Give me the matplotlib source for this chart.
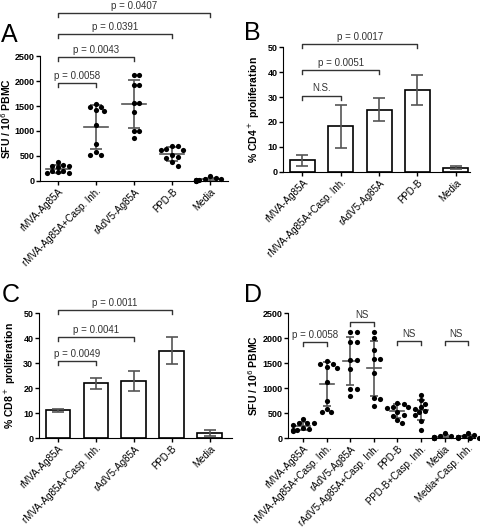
import numpy as np
import matplotlib
matplotlib.use('Agg')
import matplotlib.pyplot as plt

plt.rcParams['font.family'] = ['Liberation Sans', 'DejaVu Sans']

# ---- data ----
groups_a = ['rMVA-Ag85A', 'rMVA-Ag85A+Casp. Inh.', 'rAdV5-Ag85A', 'PPD-B', 'Media']
groups_d = ['rMVA-Ag85A', 'rMVA-Ag85A+Casp. Inh.', 'rAdV5-Ag85A', 'rAdV5-Ag85A+Casp. Inh.',
            'PPD-B', 'PPD-B+Casp. Inh.', 'Media', 'Media+Casp. Inh.']

sfu_rmva = [380, 300, 300, 310, 270, 200, 190, 170, 160, 150]
sfu_rmva_casp = [1540, 1490, 1490, 1420, 1400, 1120, 740, 580, 520, 520]
sfu_radv5 = [2120, 2120, 1920, 1920, 1570, 1570, 1390, 990, 990, 850]
sfu_radv5_casp = [2120, 2000, 1770, 1590, 1590, 1300, 800, 780, 640]
sfu_ppdb = [690, 700, 630, 620, 610, 520, 470, 450, 370, 300]
sfu_ppdb_casp = [860, 760, 680, 620, 590, 540, 520, 460, 340, 170]
sfu_media = [100, 50, 40, 30, 20, 20, 10, 10, 5, 5]
sfu_media_casp = [100, 60, 40, 30, 25, 20, 15, 10, 5, 5]

cd4_mean = [4.7, 18.2, 25.0, 32.9, 1.7]
cd4_sd = [2.2, 8.8, 4.6, 6.0, 0.7]
cd8_mean = [11.1, 21.9, 22.9, 35.0, 2.0]
cd8_sd = [0.6, 2.2, 4.1, 5.3, 1.2]

# brackets: (i, j, height, label)
brackets_a = [(0, 1, 1960, 'p = 0.0058'), (0, 2, 2480, 'p = 0.0043'),
              (0, 3, 2940, 'p = 0.0391'), (0, 4, 3360, 'p = 0.0407')]
brackets_b = [(0, 1, 30.5, 'N.S.'), (0, 2, 40.8, 'p = 0.0051'), (0, 3, 51.2, 'p = 0.0017')]
brackets_c = [(0, 1, 30.8, 'p = 0.0049'), (0, 2, 40.4, 'p = 0.0041'), (0, 3, 51.2, 'p = 0.0011')]
brackets_d = [(0, 1, 1920, 'p = 0.0058'), (2, 3, 2320, 'NS'), (4, 5, 1940, 'NS'), (6, 7, 1940, 'NS')]

data_a = [sfu_rmva, sfu_rmva_casp, sfu_radv5, sfu_ppdb, sfu_media]
data_d = [sfu_rmva, sfu_rmva_casp, sfu_radv5, sfu_radv5_casp,
          sfu_ppdb, sfu_ppdb_casp, sfu_media, sfu_media_casp]

GREY = '#555555'
TXT = '#333333'


def swarm(vals, px_val, px_cat, size=5.0, step=0.55):
    # simple beeswarm so the dots do not sit on top of each other
    vals = np.asarray(vals, float)
    offs = np.zeros(len(vals))
    placed = []
    for i in np.argsort(vals)[::-1]:
        y = vals[i] * px_val
        for k in [0, 1, -1, 2, -2, 3, -3, 4, -4, 5, -5]:
            x = k * size * step
            if all((x - a) ** 2 + (y - b) ** 2 >= size ** 2 for a, b in placed):
                break
        placed.append((x, y))
        offs[i] = x / px_cat
    return offs


def style(ax, ymax, step, labels):
    for s in ['top', 'right']:
        ax.spines[s].set_visible(False)
    ax.spines['left'].set_bounds(0, ymax)
    ax.set_ylim(0, ymax)
    ax.set_yticks(np.arange(0, ymax + 1, step))
    ax.tick_params(axis='y', labelsize=6.5, length=3, width=1, pad=1)
    ax.tick_params(axis='x', labelsize=7, length=3, width=1, pad=1)
    for t in ax.get_yticklabels():
        t.set_fontweight('bold')
    ax.set_xticks(range(len(labels)))
    ax.set_xticklabels(labels, rotation=45, ha='right', rotation_mode='anchor')


def bracket(ax, i, j, h, text, tick):
    ax.plot([i, i, j, j], [h - tick, h, h, h - tick], color=TXT, lw=1, clip_on=False)
    ax.text((i + j) / 2, h + tick * 0.6, text, ha='center', va='bottom', fontsize=7,
            color=TXT, clip_on=False)


def dots(ax, data, px_cat, half, cap, step):
    for i, v in enumerate(data):
        v = np.asarray(v, float)
        off = swarm(v, 125 / 2500, px_cat, step=step)
        ax.scatter(i + off, v, s=14, color='black', zorder=3, clip_on=False, linewidths=0)
        m, sd = v.mean(), v.std(ddof=1)
        ax.plot([i - half, i + half], [m, m], color=GREY, lw=1.2, zorder=2)
        ax.errorbar(i, m, yerr=sd, fmt='none', ecolor=GREY, elinewidth=1.2,
                    capsize=cap, capthick=1.2, zorder=2)


def bars(ax, means, sds):
    x = np.arange(len(means))
    ax.bar(x, means, width=0.65, color='white', edgecolor='black', linewidth=1.2, zorder=2)
    ax.errorbar(x, means, yerr=sds, fmt='none', ecolor=GREY, elinewidth=1.2,
                capsize=4.5, capthick=1.2, zorder=3)


fig = plt.figure(figsize=(4.8, 5.29), dpi=100)

ax_a = fig.add_axes([0.083, 0.658, 0.392, 0.236])
dots(ax_a, data_a, 38, 0.32, 4, 0.55)
style(ax_a, 2500, 500, groups_a)
ax_a.set_xlim(-0.47, 4.47)
ax_a.set_ylabel('SFU / 10$^6$ PBMC', fontsize=7.5, fontweight='bold')
ax_a.yaxis.set_label_coords(-0.145, 0.5)
for b in brackets_a:
    bracket(ax_a, *b, tick=80)

ax_b = fig.add_axes([0.590, 0.675, 0.389, 0.236])
bars(ax_b, cd4_mean, cd4_sd)
style(ax_b, 50, 10, groups_a)
ax_b.set_xlim(-0.5, 4.37)
ax_b.set_ylabel('% CD4$^+$ proliferation', fontsize=7.5, fontweight='bold')
ax_b.yaxis.set_label_coords(-0.115, 0.5)
for b in brackets_b:
    bracket(ax_b, *b, tick=1.6)

ax_c = fig.add_axes([0.081, 0.172, 0.402, 0.236])
bars(ax_c, cd8_mean, cd8_sd)
style(ax_c, 50, 10, groups_a)
ax_c.set_xlim(-0.5, 4.58)
ax_c.set_ylabel('% CD8$^+$ proliferation', fontsize=7.5, fontweight='bold')
ax_c.yaxis.set_label_coords(-0.11, 0.5)
for b in brackets_c:
    bracket(ax_c, *b, tick=1.6)

ax_d = fig.add_axes([0.600, 0.172, 0.390, 0.236])
dots(ax_d, data_d, 23.6, 0.3, 3, 0.42)
style(ax_d, 2500, 500, groups_d)
ax_d.set_xlim(-0.64, 7.3)
ax_d.set_ylabel('SFU / 10$^6$ PBMC', fontsize=7.5, fontweight='bold')
ax_d.yaxis.set_label_coords(-0.15, 0.5)
for b in brackets_d:
    bracket(ax_d, *b, tick=80)

for letter, x, y in [('A', 0.003, 0.92), ('B', 0.508, 0.924), ('C', 0.003, 0.429), ('D', 0.508, 0.429)]:
    fig.text(x, y, letter, fontsize=18, ha='left', va='baseline')

fig.savefig('out.png', dpi=100)
